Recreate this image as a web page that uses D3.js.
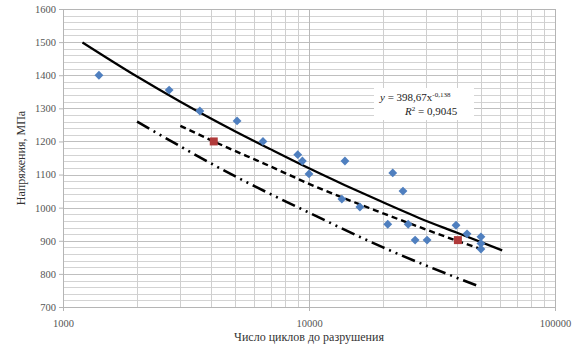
<!DOCTYPE html>
<html><head><meta charset="utf-8">
<script src="https://cdn.jsdelivr.net/npm/d3@7"></script>
<style>body{margin:0;background:#fff}svg{display:block}</style>
</head><body>
<svg id="c" width="576" height="349"></svg>
<script>
// Data
const yTicks = [700, 800, 900, 1000, 1100, 1200, 1300, 1400, 1500, 1600];
const xTicks = [1000, 10000, 100000];
const expN = [1400, 2700, 3600, 5100, 6500, 9000, 9400, 10000, 14000, 13600, 16100, 21900, 24100, 20900, 25300, 27000, 30200, 39600, 43900, 50000, 50000, 50000];
const expS = [1400, 1355, 1292, 1262, 1200, 1160, 1141, 1102, 1141, 1026, 1002, 1105, 1050, 950, 950, 902, 902, 947, 921, 912, 892, 875];
const redN = [4100, 40300];
const redS = [1200, 902];
const trendN = [1200, 2000, 3000, 5000, 7000, 10000, 14000, 20000, 28000, 40000, 61000];
const trendS = [1499, 1396, 1320, 1231, 1176, 1119, 1068, 1016, 969, 924, 871];
const meanN = [3000, 4100, 7000, 10000, 20000, 40000, 50000];
const meanS = [1247, 1200, 1124, 1072, 983, 900, 875];
const lowN = [2000, 5000, 10000, 20000, 48000];
const lowS = [1260, 1095, 985, 880, 765];
const eqText = "y = 398,67x";
const eqExp = "-0,138";
const r2Text = "= 0,9045";
const xTitle = "Число циклов до разрушения";
const yTitle = "Напряжения, МПа";

const svg = d3.select("#c");
const L = 63, R = 555, T = 9, B = 307;
const x = d3.scaleLog().domain([1000, 100000]).range([L, R]);
const y = d3.scaleLinear().domain([700, 1600]).range([B, T]);
const font = "'Liberation Serif', 'Times New Roman', serif";

// gridlines
const g = svg.append("g");
const hLines = d3.range(700, 1601, 20);
g.selectAll("line.h").data(hLines).join("line")
  .attr("x1", L).attr("x2", R)
  .attr("y1", d => Math.round(y(d)) + 0.5).attr("y2", d => Math.round(y(d)) + 0.5)
  .attr("stroke", d => d % 100 === 0 ? "#bfbfbf" : "#d3d3d3").attr("stroke-width", 1);
const vLines = [];
[1000, 10000].forEach(b => { for (let k = 1; k <= 10; k++) vLines.push(b * k); });
g.selectAll("line.v").data(vLines).join("line")
  .attr("y1", T).attr("y2", B)
  .attr("x1", d => Math.round(x(d)) + 0.5).attr("x2", d => Math.round(x(d)) + 0.5)
  .attr("stroke", d => (Math.log10(d) % 1 === 0) ? "#b8b8b8" : "#cfcfcf").attr("stroke-width", 1);
g.append("rect").attr("x", L + 0.5).attr("y", T + 0.5).attr("width", R - L).attr("height", B - T)
  .attr("fill", "none").attr("stroke", "#b5b5b5");

// axes
const yAxis = d3.axisLeft(y).tickValues(yTicks).tickSize(4).tickFormat(d3.format("d"));
const ya = svg.append("g").attr("transform", `translate(${L},0)`).call(yAxis);
const xAxis = d3.axisBottom(x).tickValues(xTicks).tickSize(4).tickFormat(d3.format("d"));
const xa = svg.append("g").attr("transform", `translate(0,${B})`).call(xAxis);
[ya, xa].forEach(a => {
  a.select(".domain").attr("stroke", "#b5b5b5");
  a.selectAll(".tick line").attr("stroke", "#b5b5b5");
  a.selectAll("text").attr("font-family", font).attr("font-size", 10.5).attr("fill", "#555");
});
xa.selectAll("text").attr("dy", "1.2em");

// titles
svg.append("text").attr("x", (L + R) / 2).attr("y", 341).attr("text-anchor", "middle")
  .attr("font-family", font).attr("font-size", 12).attr("fill", "#333").text(xTitle);
svg.append("text").attr("transform", `translate(25,${(T + B) / 2}) rotate(-90)`).attr("text-anchor", "middle")
  .attr("font-family", font).attr("font-size", 12).attr("fill", "#333").text(yTitle);

// lines
const line = d3.line().x(d => x(d[0])).y(d => y(d[1])).curve(d3.curveMonotoneX);
svg.append("path").datum(lowN.map((n, i) => [n, lowS[i]])).attr("d", line)
  .attr("fill", "none").attr("stroke", "#000").attr("stroke-width", 2.6)
  .attr("stroke-dasharray", "14,5,2,5,2,5");
svg.append("path").datum(meanN.map((n, i) => [n, meanS[i]])).attr("d", line)
  .attr("fill", "none").attr("stroke", "#000").attr("stroke-width", 2.4)
  .attr("stroke-dasharray", "6,4");
svg.append("path").datum(trendN.map((n, i) => [n, trendS[i]])).attr("d", line)
  .attr("fill", "none").attr("stroke", "#000").attr("stroke-width", 2.2);

// points
svg.append("g").selectAll("path").data(expN.map((n, i) => [n, expS[i]])).join("path")
  .attr("d", d3.symbol(d3.symbolDiamond2, 50))
  .attr("transform", d => `translate(${x(d[0])},${y(d[1])})`)
  .attr("fill", "#4f7fbf");
svg.append("g").selectAll("rect").data(redN.map((n, i) => [n, redS[i]])).join("rect")
  .attr("x", d => x(d[0]) - 4).attr("y", d => y(d[1]) - 4).attr("width", 8).attr("height", 8)
  .attr("fill", "#b03a3a");

// equation box
const bx = 374, by = 88;
svg.append("rect").attr("x", bx).attr("y", by).attr("width", 100).attr("height", 32).attr("fill", "#fff");
const t1 = svg.append("text").attr("x", 380).attr("y", 101).attr("font-family", font).attr("font-size", 11).attr("fill", "#222");
t1.append("tspan").attr("font-style", "italic").text("y");
t1.append("tspan").text(eqText.slice(1));
t1.append("tspan").attr("dy", -4).attr("font-size", 7).text(eqExp);
const t2 = svg.append("text").attr("x", 405).attr("y", 115).attr("font-family", font).attr("font-size", 11).attr("fill", "#222");
t2.append("tspan").attr("font-style", "italic").text("R");
t2.append("tspan").attr("dy", -4).attr("font-size", 7).text("2");
t2.append("tspan").attr("dy", 4).text(" " + r2Text);
</script>
</body></html>
